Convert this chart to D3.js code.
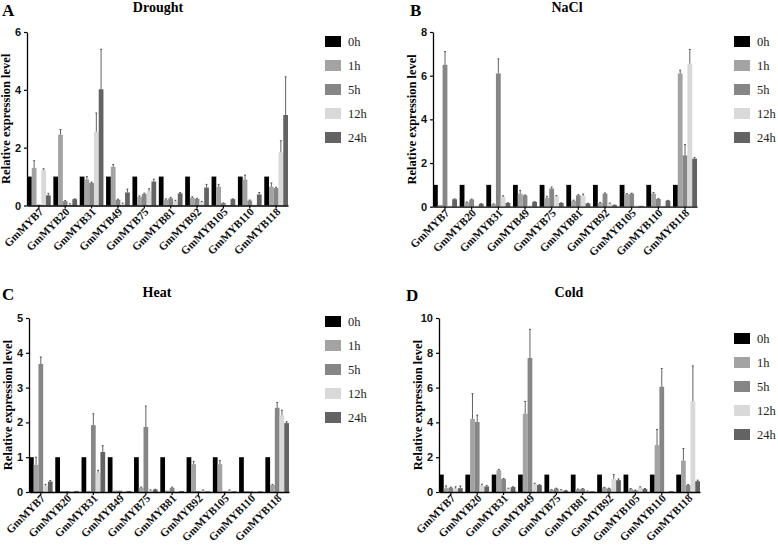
<!DOCTYPE html>
<html><head><meta charset="utf-8">
<script src="https://cdn.jsdelivr.net/npm/d3@7"></script>
<style>body{margin:0;background:#fff}svg{display:block}</style>
</head><body>
<svg id="c" width="778" height="547"></svg>
<script>
const categories = ["GmMYB7","GmMYB20","GmMYB31","GmMYB49","GmMYB75","GmMYB81","GmMYB92","GmMYB105","GmMYB110","GmMYB118"];
const times = ["0h","1h","5h","12h","24h"];
const colors = ["#000000","#a3a3a3","#868686","#d9d9d9","#636363"];

const base = [1,1,1,1,1,1,1,1,1,1];
const baseErr = [0,0,0,0,0,0,0,0,0,0];

// Drought
const droughtMeans = [
  base,
  [1.3, 2.45, 0.9, 1.34, 0.3, 0.2, 0.27, 0.65, 0.9, 0.65],
  [0.03, 0.15, 0.78, 0.2, 0.4, 0.25, 0.23, 0.08, 0.17, 0.6],
  [1.22, 0.05, 2.55, 0.06, 0.5, 0.15, 0.12, 0.02, 0.03, 1.84],
  [0.35, 0.22, 4.02, 0.45, 0.83, 0.42, 0.62, 0.22, 0.38, 3.13]
];
const droughtErr = [
  baseErr,
  [0.25, 0.18, 0.1, 0.08, 0.03, 0.03, 0.03, 0.08, 0.15, 0.13],
  [0, 0.02, 0.03, 0.02, 0.03, 0.03, 0.02, 0.01, 0.02, 0.03],
  [0.05, 0.01, 0.65, 0.02, 0.08, 0.03, 0.02, 0, 0, 0.4],
  [0.07, 0.01, 1.38, 0.12, 0.08, 0.03, 0.11, 0.01, 0.07, 1.32]
];
// NaCl
const naclMeans = [
  base,
  [0.08, 0.2, 0.12, 0.6, 0.4, 0.27, 0.17, 0.57, 0.6, 6.1],
  [6.5, 0.33, 6.1, 0.52, 0.83, 0.52, 0.6, 0.6, 0.35, 2.35],
  [0.05, 0.05, 0.45, 0.05, 0.48, 0.5, 0.15, 0.05, 0.05, 6.55],
  [0.34, 0.13, 0.17, 0.22, 0.17, 0.15, 0.07, 0.04, 0.28, 2.2]
];
const naclErr = [
  baseErr,
  [0, 0.02, 0.01, 0.15, 0.08, 0.03, 0.02, 0.03, 0.05, 0.15],
  [0.6, 0.02, 0.67, 0.02, 0.07, 0.03, 0.03, 0.02, 0.02, 0.5],
  [0, 0, 0.05, 0, 0.03, 0.08, 0.02, 0, 0, 0.65],
  [0.02, 0.01, 0.01, 0.01, 0.01, 0.01, 0.01, 0, 0.01, 0.05]
];
// Heat
const heatMeans = [
  base,
  [0.78, 0.03, 0.03, 0.04, 0.12, 0.04, 0.8, 0.8, 0.03, 0.2],
  [3.68, 0.03, 1.92, 0.04, 1.87, 0.12, 0.03, 0.02, 0.02, 2.42],
  [0.18, 0.02, 0.55, 0.02, 0.05, 0.02, 0.05, 0.05, 0.01, 2.2],
  [0.3, 0.03, 1.15, 0.03, 0.07, 0.03, 0.02, 0.02, 0.02, 1.98]
];
const heatErr = [
  baseErr,
  [0.22, 0, 0, 0, 0.02, 0, 0.08, 0.1, 0, 0.02],
  [0.2, 0, 0.33, 0, 0.6, 0.02, 0, 0, 0, 0.15],
  [0.04, 0, 0.07, 0, 0.01, 0, 0.01, 0.01, 0, 0.15],
  [0.03, 0, 0.18, 0, 0.01, 0, 0, 0, 0, 0.04]
];
// Cold
const coldMeans = [
  base,
  [0.22, 4.2, 1.25, 4.5, 0.12, 0.15, 0.25, 0.18, 2.7, 1.8],
  [0.25, 4.02, 0.75, 7.7, 0.2, 0.18, 0.2, 0.1, 6.05, 0.4],
  [0.2, 0.38, 0.2, 0.45, 0.12, 0.05, 0.75, 0.25, 0.02, 5.2],
  [0.22, 0.32, 0.28, 0.4, 0.08, 0.04, 0.68, 0.18, 0.05, 0.62]
];
const coldErr = [
  baseErr,
  [0.13, 1.45, 0.05, 0.7, 0.01, 0.02, 0.02, 0.02, 0.9, 0.7],
  [0.03, 0.4, 0.03, 1.65, 0.02, 0.02, 0.02, 0.01, 1.05, 0.03],
  [0.1, 0.07, 0.02, 0.05, 0.01, 0.01, 0.25, 0.05, 0, 2.05],
  [0.13, 0.06, 0.02, 0.02, 0.01, 0, 0.07, 0.02, 0, 0.06]
];

const panels = [
  {letter:"A", title:"Drought", means:droughtMeans, err:droughtErr, yMax:6, yStep:2,
   x0:27, x1:288, yTop:32, yBot:205.5, letterX:2, letterY:16, titleX:158, titleY:12, legX:325, legY:36},
  {letter:"B", title:"NaCl", means:naclMeans, err:naclErr, yMax:8, yStep:2,
   x0:433, x1:697, yTop:32, yBot:206.7, letterX:410, letterY:16, titleX:567, titleY:12, legX:734, legY:36},
  {letter:"C", title:"Heat", means:heatMeans, err:heatErr, yMax:5, yStep:1,
   x0:29, x1:289, yTop:318, yBot:492, letterX:2, letterY:300, titleX:157, titleY:297, legX:325, legY:316},
  {letter:"D", title:"Cold", means:coldMeans, err:coldErr, yMax:10, yStep:2,
   x0:439, x1:700, yTop:318, yBot:492, letterX:406, letterY:301, titleX:569, titleY:297, legX:734, legY:333}
];

const svg = d3.select("#c");
const serif = "'Liberation Serif','Times New Roman',serif";
const sans = "'Liberation Sans',Arial,sans-serif";

panels.forEach(p => {
  const g = svg.append("g");
  const x = d3.scaleBand().domain(categories).range([p.x0, p.x1]).paddingInner(0.1).paddingOuter(0);
  const xi = d3.scaleBand().domain(times).range([0, x.bandwidth()]).padding(0);
  const y = d3.scaleLinear().domain([0, p.yMax]).range([p.yBot, p.yTop]);

  const data = [];
  times.forEach((t, ti) => categories.forEach((c, ci) => {
    data.push({c, t, ti, v: p.means[ti][ci], e: p.err[ti][ci]});
  }));

  g.selectAll("rect.bar").data(data).join("rect")
    .attr("x", d => x(d.c) + xi(d.t))
    .attr("width", xi.bandwidth())
    .attr("y", d => y(d.v))
    .attr("height", d => y(0) - y(d.v))
    .attr("fill", d => colors[d.ti]);

  const eb = data.filter(d => d.e > 0);
  g.selectAll("line.err").data(eb).join("line")
    .attr("x1", d => x(d.c) + xi(d.t) + xi.bandwidth()/2)
    .attr("x2", d => x(d.c) + xi(d.t) + xi.bandwidth()/2)
    .attr("y1", d => y(d.v)).attr("y2", d => y(d.v + d.e))
    .attr("stroke", "#3a3a3a").attr("stroke-width", 0.8);
  g.selectAll("line.cap").data(eb).join("line")
    .attr("x1", d => x(d.c) + xi(d.t) + xi.bandwidth()/2 - 1)
    .attr("x2", d => x(d.c) + xi(d.t) + xi.bandwidth()/2 + 1)
    .attr("y1", d => y(d.v + d.e)).attr("y2", d => y(d.v + d.e))
    .attr("stroke", "#3a3a3a").attr("stroke-width", 0.8);

  // y axis
  const ya = g.append("g").attr("transform", `translate(${p.x0},0)`)
    .call(d3.axisLeft(y).tickValues(d3.range(0, p.yMax + 0.001, p.yStep)).tickSize(3).tickSizeOuter(0).tickFormat(d3.format("d")));
  ya.select(".domain").attr("stroke", "#000").attr("stroke-width", 1.3);
  ya.selectAll(".tick line").attr("stroke", "#000").attr("stroke-width", 1.2);
  ya.selectAll(".tick text").attr("font-family", sans).attr("font-weight", "bold").attr("font-size", 11).attr("fill", "#111");

  // x axis
  const xa = g.append("g").attr("transform", `translate(0,${p.yBot})`)
    .call(d3.axisBottom(x).tickSize(3).tickSizeOuter(0));
  xa.select(".domain").attr("stroke", "#000").attr("stroke-width", 1.3);
  xa.selectAll(".tick line").attr("stroke", "#000").attr("stroke-width", 1.2);
  xa.selectAll(".tick text")
    .attr("font-family", serif).attr("font-weight", "bold").attr("font-size", 11.2).attr("fill", "#111")
    .attr("text-anchor", "end").attr("dy", null).attr("y", 0)
    .attr("transform", "translate(5,7) rotate(-45)");

  // y label
  g.append("text")
    .attr("transform", `translate(${p.x0 - 17},${(p.yTop + p.yBot)/2}) rotate(-90)`)
    .attr("text-anchor", "middle")
    .attr("font-family", serif).attr("font-weight", "bold").attr("font-size", 12.5)
    .text("Relative expression level");

  // title and letter
  g.append("text").attr("x", p.titleX).attr("y", p.titleY).attr("text-anchor", "middle")
    .attr("font-family", serif).attr("font-weight", "bold").attr("font-size", 14).text(p.title);
  g.append("text").attr("x", p.letterX).attr("y", p.letterY)
    .attr("font-family", serif).attr("font-weight", "bold").attr("font-size", 17).text(p.letter);

  // legend
  const lg = g.append("g").attr("transform", `translate(${p.legX},${p.legY})`);
  times.forEach((t, i) => {
    lg.append("rect").attr("x", 0).attr("y", i*24).attr("width", 16).attr("height", 11).attr("fill", colors[i]);
    lg.append("text").attr("x", 23).attr("y", i*24 + 10)
      .attr("font-family", serif).attr("font-size", 12.5).attr("fill", "#222").text(t);
  });
});
</script>
</body></html>
